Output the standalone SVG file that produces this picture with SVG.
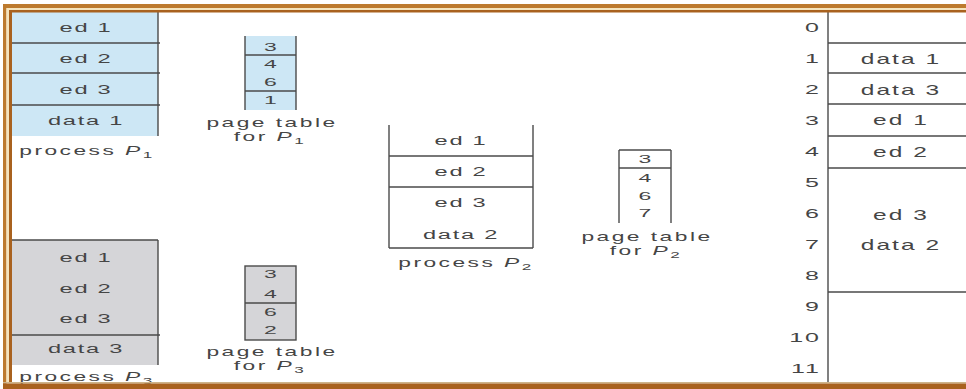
<svg xmlns="http://www.w3.org/2000/svg" width="966" height="389" viewBox="0 0 966 389">
<style>
  .ln { stroke: #4a4a4a; stroke-width: 1.4; fill: none; }
  .blue { fill: #cde7f5; }
  .gray { fill: #d5d5d8; }
  text { font-family: "Liberation Sans", Arial, sans-serif; fill: #454545; text-anchor: middle; }
  .lb { font-size: 13.5px; letter-spacing: 1px; }
  .ml { font-size: 14px; letter-spacing: 1.2px; }
  .dg { font-size: 11.5px; }
  .cap { font-size: 12px; letter-spacing: 1.3px; }
  .mn { font-size: 12.5px; text-anchor: end; letter-spacing: 1px; }
  .it { font-style: italic; }
  .sub { font-size: 9px; }
  .br1 { fill: #bd7a2e; }
  .br2 { fill: #a9621f; }
  .cr { fill: #f5e4bd; }
</style>
<rect x="0" y="0" width="966" height="389" fill="#ffffff"/>

<g id="process-p1">
  <rect class="blue" x="12" y="12" width="146" height="124"/>
  <line class="ln" x1="158" y1="12" x2="158" y2="136"/>
  <line class="ln" x1="12" y1="43" x2="160" y2="43"/>
  <line class="ln" x1="12" y1="73" x2="160" y2="73"/>
  <line class="ln" x1="12" y1="105" x2="160" y2="105"/>
  <text class="lb" transform="translate(86,32) scale(1.75,1)">ed 1</text>
  <text class="lb" transform="translate(86,63) scale(1.75,1)">ed 2</text>
  <text class="lb" transform="translate(86,94) scale(1.75,1)">ed 3</text>
  <text class="lb" transform="translate(86,125) scale(1.75,1)">data 1</text>
  <text class="cap" transform="translate(87,155) scale(1.9,1)">process <tspan class="it">P</tspan><tspan class="sub" dy="3">1</tspan></text>
</g>

<g id="page-table-p1">
  <rect class="blue" x="245" y="36" width="51" height="74"/>
  <line class="ln" x1="245" y1="36" x2="245" y2="110"/>
  <line class="ln" x1="296" y1="36" x2="296" y2="110"/>
  <line class="ln" x1="245" y1="55" x2="296" y2="55"/>
  <line class="ln" x1="245" y1="91" x2="296" y2="91"/>
  <text class="dg" transform="translate(270.5,51) scale(2,1)">3</text>
  <text class="dg" transform="translate(270.5,68) scale(2,1)">4</text>
  <text class="dg" transform="translate(270.5,86) scale(2,1)">6</text>
  <text class="dg" transform="translate(270.5,104) scale(2,1)">1</text>
  <text class="cap" transform="translate(272,127) scale(1.9,1)">page table</text>
  <text class="cap" transform="translate(270,140.5) scale(1.9,1)">for <tspan class="it">P</tspan><tspan class="sub" dy="3">1</tspan></text>
</g>

<g id="process-p2">
  <line class="ln" x1="389" y1="125" x2="389" y2="248"/>
  <line class="ln" x1="533" y1="125" x2="533" y2="248"/>
  <line class="ln" x1="389" y1="156" x2="533" y2="156"/>
  <line class="ln" x1="389" y1="187" x2="533" y2="187"/>
  <line class="ln" x1="389" y1="248" x2="533" y2="248"/>
  <text class="lb" transform="translate(461,145) scale(1.75,1)">ed 1</text>
  <text class="lb" transform="translate(461,176) scale(1.75,1)">ed 2</text>
  <text class="lb" transform="translate(461,207) scale(1.75,1)">ed 3</text>
  <text class="lb" transform="translate(461,239) scale(1.75,1)">data 2</text>
  <text class="cap" transform="translate(466,267) scale(1.9,1)">process <tspan class="it">P</tspan><tspan class="sub" dy="3">2</tspan></text>
</g>

<g id="page-table-p2">
  <line class="ln" x1="619" y1="150" x2="619" y2="223"/>
  <line class="ln" x1="671" y1="150" x2="671" y2="223"/>
  <line class="ln" x1="619" y1="150" x2="671" y2="150"/>
  <line class="ln" x1="619" y1="168" x2="671" y2="168"/>
  <text class="dg" transform="translate(645,163) scale(2,1)">3</text>
  <text class="dg" transform="translate(645,182) scale(2,1)">4</text>
  <text class="dg" transform="translate(645,200) scale(2,1)">6</text>
  <text class="dg" transform="translate(645,217) scale(2,1)">7</text>
  <text class="cap" transform="translate(647,241) scale(1.9,1)">page table</text>
  <text class="cap" transform="translate(646,254.5) scale(1.9,1)">for <tspan class="it">P</tspan><tspan class="sub" dy="3">2</tspan></text>
</g>

<g id="process-p3">
  <rect class="gray" x="12" y="240" width="146" height="125"/>
  <line class="ln" x1="12" y1="240" x2="158" y2="240"/>
  <line class="ln" x1="158" y1="240" x2="158" y2="365"/>
  <line class="ln" x1="12" y1="335" x2="160" y2="335"/>
  <text class="lb" transform="translate(86,262) scale(1.75,1)">ed 1</text>
  <text class="lb" transform="translate(86,293) scale(1.75,1)">ed 2</text>
  <text class="lb" transform="translate(86,323) scale(1.75,1)">ed 3</text>
  <text class="lb" transform="translate(86,353) scale(1.75,1)">data 3</text>
  <text class="cap" transform="translate(87,381) scale(1.9,1)">process <tspan class="it">P</tspan><tspan class="sub" dy="3">3</tspan></text>
</g>

<g id="page-table-p3">
  <rect class="ln" x="245" y="266" width="51" height="74" style="fill:#d5d5d8"/>
  <line class="ln" x1="245" y1="303" x2="296" y2="303"/>
  <text class="dg" transform="translate(270.5,278) scale(2,1)">3</text>
  <text class="dg" transform="translate(270.5,298) scale(2,1)">4</text>
  <text class="dg" transform="translate(270.5,316) scale(2,1)">6</text>
  <text class="dg" transform="translate(270.5,334) scale(2,1)">2</text>
  <text class="cap" transform="translate(272,356) scale(1.9,1)">page table</text>
  <text class="cap" transform="translate(270,370) scale(1.9,1)">for <tspan class="it">P</tspan><tspan class="sub" dy="3">3</tspan></text>
</g>

<g id="physical-memory">
  <line class="ln" x1="828" y1="12" x2="828" y2="383"/>
  <line class="ln" x1="828" y1="43" x2="966" y2="43"/>
  <line class="ln" x1="828" y1="73" x2="966" y2="73"/>
  <line class="ln" x1="828" y1="104" x2="966" y2="104"/>
  <line class="ln" x1="828" y1="136" x2="966" y2="136"/>
  <line class="ln" x1="828" y1="168" x2="966" y2="168"/>
  <line class="ln" x1="828" y1="292" x2="966" y2="292"/>
  <text class="mn" transform="translate(821,32) scale(2,1)">0</text>
  <text class="mn" transform="translate(821,63) scale(2,1)">1</text>
  <text class="mn" transform="translate(821,94) scale(2,1)">2</text>
  <text class="mn" transform="translate(821,125) scale(2,1)">3</text>
  <text class="mn" transform="translate(821,156) scale(2,1)">4</text>
  <text class="mn" transform="translate(821,187) scale(2,1)">5</text>
  <text class="mn" transform="translate(821,218) scale(2,1)">6</text>
  <text class="mn" transform="translate(821,249) scale(2,1)">7</text>
  <text class="mn" transform="translate(821,280) scale(2,1)">8</text>
  <text class="mn" transform="translate(821,311) scale(2,1)">9</text>
  <text class="mn" transform="translate(821,342) scale(2,1)">10</text>
  <text class="mn" transform="translate(821,373) scale(2,1)">11</text>
  <text class="ml" transform="translate(901,64) scale(1.75,1)">data 1</text>
  <text class="ml" transform="translate(901,95) scale(1.75,1)">data 3</text>
  <text class="ml" transform="translate(901,125) scale(1.75,1)">ed 1</text>
  <text class="ml" transform="translate(901,157) scale(1.75,1)">ed 2</text>
  <text class="ml" transform="translate(901,220) scale(1.75,1)">ed 3</text>
  <text class="ml" transform="translate(901,250) scale(1.75,1)">data 2</text>
</g>

<g id="frame">
  <rect class="br1" x="3" y="4" width="963" height="4"/>
  <rect class="cr" x="6" y="8" width="960" height="2"/>
  <rect class="br2" x="9" y="10" width="957" height="2.5"/>
  <rect class="br1" x="3" y="4" width="3.5" height="385"/>
  <rect class="cr" x="6.5" y="8" width="2.5" height="375"/>
  <rect class="br2" x="9" y="10" width="3" height="373"/>
  <rect x="3" y="382" width="963" height="1.5" fill="#cdb48a"/>
  <rect class="br2" x="3" y="383.5" width="963" height="5.5"/>
</g>
</svg>
